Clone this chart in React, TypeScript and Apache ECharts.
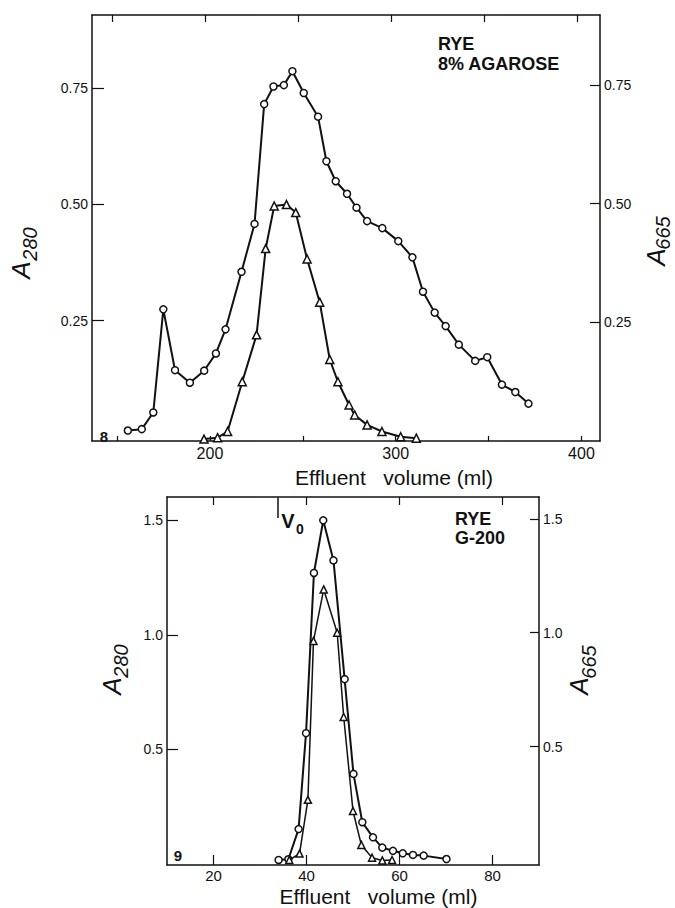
import React, { useEffect, useRef } from "react";
import * as echarts from "echarts";

// ---- Panel 8: RYE, 8% agarose ----
const agaroseVolA280 = [155.8, 163.3, 169.5, 174.9, 181.2, 189.2, 196.9, 203.2, 208.4, 217, 224, 229.2, 234.2, 239.8, 244.4, 250.5, 258.2, 262.7, 267.7, 273.8, 278.9, 284.6, 292.8, 301.4, 309, 314.7, 321, 326.9, 334, 342.8, 349.3, 357.2, 364.4, 371.5];
const agaroseA280 = [0.013, 0.016, 0.052, 0.274, 0.143, 0.116, 0.142, 0.179, 0.231, 0.355, 0.458, 0.716, 0.754, 0.757, 0.787, 0.74, 0.689, 0.593, 0.55, 0.523, 0.493, 0.464, 0.449, 0.421, 0.386, 0.312, 0.267, 0.238, 0.198, 0.163, 0.171, 0.112, 0.096, 0.071];
const agaroseVolA665 = [196.8, 204.1, 209.5, 217.4, 225.1, 230, 234.6, 241.2, 246.2, 252.3, 259.1, 264.5, 268.9, 274.9, 277.9, 284.6, 292.6, 302.7, 311.1];
const agaroseA665 = [0.003, 0.006, 0.019, 0.124, 0.223, 0.405, 0.495, 0.498, 0.481, 0.383, 0.292, 0.171, 0.124, 0.075, 0.054, 0.033, 0.019, 0.008, 0.005];
const agaroseXTicks = [150, 200, 250, 300, 350, 400];
const agaroseXLabels = [200, 300, 400];
const agaroseYTicks = [0.25, 0.5, 0.75];

// ---- Panel 9: RYE, G-200 ----
const g200VolA280 = [34.0, 36.1, 38.3, 39.9, 41.6, 43.6, 45.8, 48.2, 50.1, 52.0, 54.3, 56.3, 58.6, 60.7, 62.9, 65.2, 70.1];
const g200A280 = [0.016, 0.019, 0.151, 0.57, 1.27, 1.5, 1.325, 0.806, 0.392, 0.181, 0.115, 0.07, 0.056, 0.045, 0.038, 0.035, 0.02];
const g200VolA665 = [36.3, 38.5, 40.3, 41.5, 43.7, 46.6, 48.0, 50.0, 51.8, 54.1, 56.3, 58.4];
const g200A665 = [0.002, 0.03, 0.266, 0.964, 1.19, 1.0, 0.63, 0.217, 0.068, 0.012, 0.0, 0.002];
const g200XTicks = [20, 40, 60, 80];
const g200TopTicks = [20, 40, 60, 82];
const g200YTicks = [0.5, 1.0, 1.5];
const voidVolume = 33.8;

const FONT = '"Liberation Sans", Arial, sans-serif';
const INK = "#111";
const X_TITLE = "Effluent   volume (ml)";

const zip = (xs: number[], ys: number[]) => xs.map((x, i) => [x, ys[i]]);

function xAxisCfg(gridIndex: number, position: string, min: number, max: number, ticks: number[], labels: number[] | null, tickLen: number, fontSize: number, margin: number) {
  return {
    type: "value",
    gridIndex,
    position,
    min,
    max,
    splitLine: { show: false },
    axisLine: { show: true, onZero: false, lineStyle: { color: INK, width: 1.5 } },
    axisTick: { show: true, inside: true, length: tickLen, customValues: ticks, lineStyle: { color: INK, width: 1.2 } },
    axisLabel: labels
      ? { show: true, customValues: labels, color: INK, fontSize, fontFamily: FONT, margin }
      : { show: false },
  };
}

function yAxisCfg(gridIndex: number, position: string, min: number, max: number, ticks: number[], digits: number, tickLen: number) {
  return {
    type: "value",
    gridIndex,
    position,
    min,
    max,
    splitLine: { show: false },
    axisLine: { show: true, onZero: false, lineStyle: { color: INK, width: 1.5 } },
    axisTick: { show: true, inside: true, length: tickLen, customValues: ticks, lineStyle: { color: INK, width: 1.2 } },
    axisLabel: {
      show: true,
      customValues: ticks,
      color: INK,
      fontSize: 14,
      fontFamily: FONT,
      margin: 4,
      formatter: (v: number) => v.toFixed(digits),
    },
  };
}

function lineSeries(name: string, data: number[][], xi: number, yi: number, symbol: string, size: number, extra: any = {}) {
  return {
    name,
    type: "line",
    xAxisIndex: xi,
    yAxisIndex: yi,
    data,
    symbol,
    symbolSize: size,
    showAllSymbol: true,
    lineStyle: { color: INK, width: 2 },
    itemStyle: { color: "#fff", borderColor: INK, borderWidth: 1.5 },
    z: 3,
    ...extra,
  };
}

function rotText(x: number, y: number, text: string, fontSize: number) {
  return {
    type: "text",
    x,
    y,
    rotation: Math.PI / 2,
    style: {
      text,
      fontSize,
      fontStyle: "italic",
      fontFamily: FONT,
      fill: INK,
      align: "center",
      verticalAlign: "middle",
    },
  };
}

function centerText(x: number, y: number, text: string, fontSize: number, weight = "normal") {
  return {
    type: "text",
    x,
    y,
    style: { text, fontSize, fontWeight: weight, fontFamily: FONT, fill: INK, align: "center", verticalAlign: "middle" },
  };
}

function blockText(x: number, y: number, text: string, fontSize: number, lineHeight: number) {
  return {
    type: "text",
    x,
    y,
    style: { text, fontSize, lineHeight, fontWeight: "bold", fontFamily: FONT, fill: INK, align: "left", verticalAlign: "top" },
  };
}

export default function App() {
  const ref = useRef<HTMLDivElement>(null);
  useEffect(() => {
    const chart = echarts.init(ref.current!, null, { renderer: "svg" });
    const option: any = {
      animation: false,
      backgroundColor: "#fff",
      grid: [
        { left: 92, top: 15, width: 508, height: 426 },
        { left: 167, top: 497, width: 372, height: 368 },
      ],
      xAxis: [
        xAxisCfg(0, "bottom", 136.5, 410, agaroseXTicks, agaroseXLabels, 5, 16, 4),
        xAxisCfg(0, "top", 139.3, 412.3, agaroseXTicks, null, 7, 16, 4),
        xAxisCfg(1, "bottom", 10, 90, g200XTicks, g200XTicks, 10, 15, 3),
        xAxisCfg(1, "top", 10, 90, g200TopTicks, null, 8, 15, 3),
      ],
      yAxis: [
        yAxisCfg(0, "left", -0.0095, 0.908, agaroseYTicks, 2, 12),
        yAxisCfg(0, "right", -0.001, 0.898, agaroseYTicks, 2, 10),
        yAxisCfg(1, "left", -0.006, 1.602, g200YTicks, 1, 11),
        yAxisCfg(1, "right", -0.02, 1.596, g200YTicks, 1, 9),
      ],
      series: [
        lineSeries("A280 agarose", zip(agaroseVolA280, agaroseA280), 0, 0, "circle", 7),
        lineSeries("A665 agarose", zip(agaroseVolA665, agaroseA665), 0, 1, "triangle", 8),
        lineSeries("A280 G-200", zip(g200VolA280, g200A280), 2, 2, "circle", 7, {
          markLine: {
            silent: true,
            symbol: "none",
            label: { show: false },
            lineStyle: { color: INK, width: 1.5, type: "solid" },
            data: [[{ coord: [voidVolume, 1.6] }, { coord: [voidVolume, 1.51] }]],
          },
        }),
        lineSeries("A665 G-200", zip(g200VolA665, g200A665), 2, 3, "triangle", 7, { lineStyle: { color: INK, width: 1.5 } }),
      ],
      graphic: [
        // axis titles: A with subscript wavelength
        rotText(21, 270, "A", 26),
        rotText(30, 244, "280", 20),
        rotText(656, 257, "A", 26),
        rotText(663, 233, "665", 20),
        rotText(112, 686, "A", 26),
        rotText(121, 661, "280", 20),
        rotText(579, 686, "A", 26),
        rotText(589, 662, "665", 20),
        blockText(438, 34, "RYE\n8% AGAROSE", 18, 20),
        blockText(455, 509, "RYE\nG-200", 18, 19),
        centerText(104, 436.5, "8", 15, "bold"),
        centerText(178, 855, "9", 15, "bold"),
        centerText(394, 477, X_TITLE, 21),
        centerText(378.5, 896, X_TITLE, 21),
        centerText(288, 520.5, "V", 20, "bold"),
        centerText(300, 529, "0", 14, "bold"),
      ],
    };
    chart.setOption(option);
    return () => chart.dispose();
  }, []);
  return (
    <div
      ref={ref}
      style={{ position: "absolute", left: 0, top: 0, width: 675, height: 908, background: "#fff" }}
    />
  );
}
